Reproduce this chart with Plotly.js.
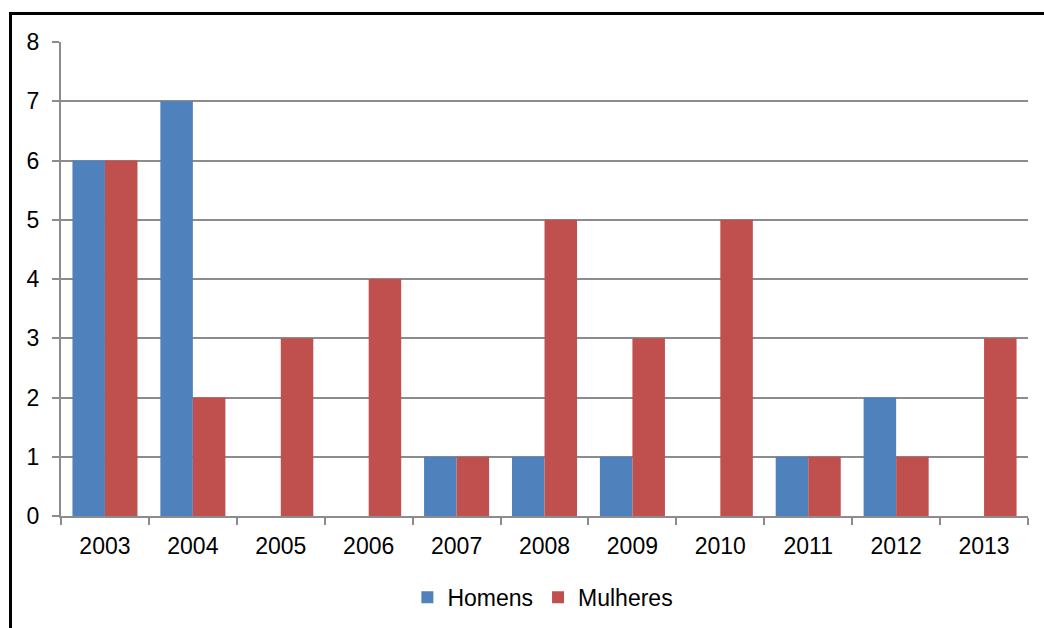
<!DOCTYPE html>
<html>
<head>
<meta charset="utf-8">
<script src="https://cdn.plot.ly/plotly-3.0.1.min.js"></script>
<style>
html,body{margin:0;padding:0;background:#fff;overflow:hidden;}
#frame{position:absolute;left:9px;top:12px;width:1100px;height:700px;border-left:3px solid #000;border-top:3px solid #000;pointer-events:none;z-index:5;}
#chart{position:absolute;left:0;top:0;width:1044px;height:628px;}
</style>
</head>
<body>
<div id="chart"></div>
<div id="frame"></div>
<script>
const years = ['2003','2004','2005','2006','2007','2008','2009','2010','2011','2012','2013'];
const homens = [6,7,0,0,1,1,1,0,1,2,0];
const mulheres = [6,2,3,4,1,5,3,5,1,1,3];
const yTicks = [0,1,2,3,4,5,6,7,8];

const font = {family:'Liberation Sans, Arial, sans-serif', size:23, color:'#000'};
const data = [
  {type:'bar', name:'Homens', x:years, y:homens, marker:{color:'#4F81BD'}},
  {type:'bar', name:'Mulheres', x:years, y:mulheres, marker:{color:'#C0504D'}}
];
const layout = {
  width:1044, height:628,
  margin:{l:61, r:16, t:42, b:112},
  paper_bgcolor:'#fff', plot_bgcolor:'#fff',
  barmode:'group', bargap:0.26, bargroupgap:0,
  font:font,
  showlegend:true,
  legend:{orientation:'h', x:0.52, xanchor:'center', xref:'container', y:0.049, yanchor:'middle', yref:'container', font:font, itemwidth:30, traceorder:'normal'},
  xaxis:{type:'category', tickson:'boundaries', ticks:'outside', ticklen:7, tickcolor:'#8c8c8c', tickwidth:2, automargin:false,
         showline:true, linecolor:'#8c8c8c', linewidth:2, showgrid:false, tickfont:font, ticklabelstandoff:8, fixedrange:true},
  yaxis:{range:[0,8], tickvals:yTicks, ticks:'outside', ticklen:7, tickcolor:'#8c8c8c', tickwidth:2, automargin:false,
         showline:true, linecolor:'#8c8c8c', linewidth:2, showgrid:true, gridcolor:'#8c8c8c', gridwidth:2,
         zeroline:false, tickfont:font, ticklabelstandoff:8, fixedrange:true}
};
Plotly.newPlot('chart', data, layout, {displayModeBar:false, staticPlot:true});
</script>
</body>
</html>
